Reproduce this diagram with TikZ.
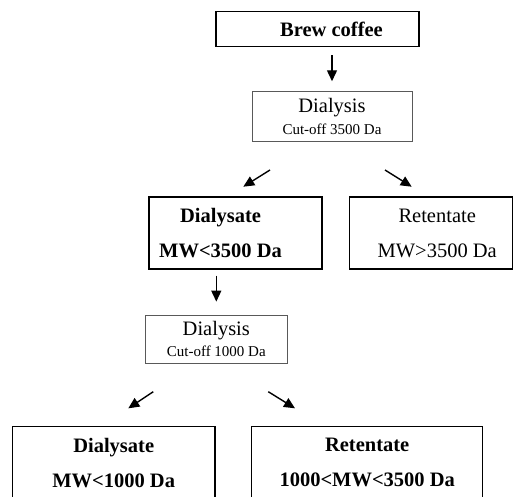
\documentclass[tikz,border=0pt]{standalone}
\usepackage{fontspec}
\setmainfont{Liberation Serif}
\usetikzlibrary{arrows.meta}

\tikzset{
  thickbox/.style={draw, line width=1.3pt, inner sep=0pt, align=center,
    font=\fontsize{20.5}{35}\selectfont},
  thinbox/.style={draw=black!65, line width=0.8pt, inner sep=0pt, align=center,
    font=\fontsize{20.5}{21.6}\selectfont},
  arr/.style={line width=1.4pt, -{Triangle[length=11pt,width=10pt]}},
}
\newcommand{\cutoff}[1]{{\fontsize{15}{18}\selectfont Cut-off #1 Da}}

\begin{document}
\begin{tikzpicture}[%
      x=1pt, y=-1pt,
      ]
      \useasboundingbox (0,0) rectangle (513,496);
      \clip (0,0) rectangle (513,496);

      \node [thickbox, minimum width=203pt, minimum height=35pt] (brew) at (317.5,29.2)
        {\rule{28pt}{0pt}\textbf{Brew coffee}};
      \node [thinbox, minimum width=160pt, minimum height=49.3pt] (dia1) at (332,116.3)
        {Dialysis\\\cutoff{3500}};

      \node [thickbox, minimum width=173pt, minimum height=72pt] (dsate1) at (235.5,233)
        {\textbf{Dialysate}\rule{30pt}{0pt}\\\textbf{MW<3500 Da}\rule{30pt}{0pt}};
      \node [thickbox, line width=1.1pt, minimum width=163pt, minimum height=72pt] (rtate1) at (430.7,233)
        {\rule{13pt}{0pt}Retentate\\\rule{13pt}{0pt}MW>3500 Da};

      \node [thinbox, minimum width=142.7pt, minimum height=48pt] (dia2) at (216.3,339)
        {Dialysis\\\cutoff{1000}};

      \node [thickbox, minimum width=202.7pt, minimum height=72pt] (dsate2) at (113.7,462.7)
        {\textbf{Dialysate}\\\textbf{MW<1000 Da}};
      \node [thickbox, minimum width=231pt, minimum height=72pt] (rtate2) at (367.2,462.7)
        {\textbf{Retentate}\\\textbf{1000<MW<3500 Da}};

      % split arrows
      \coordinate (l1s) at (270,170);   \coordinate (l1e) at (243.3,186.7);
      \coordinate (r1s) at (385,170);   \coordinate (r1e) at (411.7,186.7);
      \coordinate (l2s) at (153.3,391.7); \coordinate (l2e) at (128.3,408.3);
      \coordinate (r2s) at (268.3,391.7); \coordinate (r2e) at (295,408.3);

      \draw [arr, shorten <=8pt, shorten >=10pt] (brew.south -| dia1.north) -- (dia1.north);
      \draw [arr, shorten <=6pt, shorten >=13pt] (dsate1.south -| dia2.north) -- (dia2.north);
      \draw [arr] (l1s) -- (l1e);
      \draw [arr] (r1s) -- (r1e);
      \draw [arr] (l2s) -- (l2e);
      \draw [arr] (r2s) -- (r2e);
      \end{tikzpicture}
\end{document}
